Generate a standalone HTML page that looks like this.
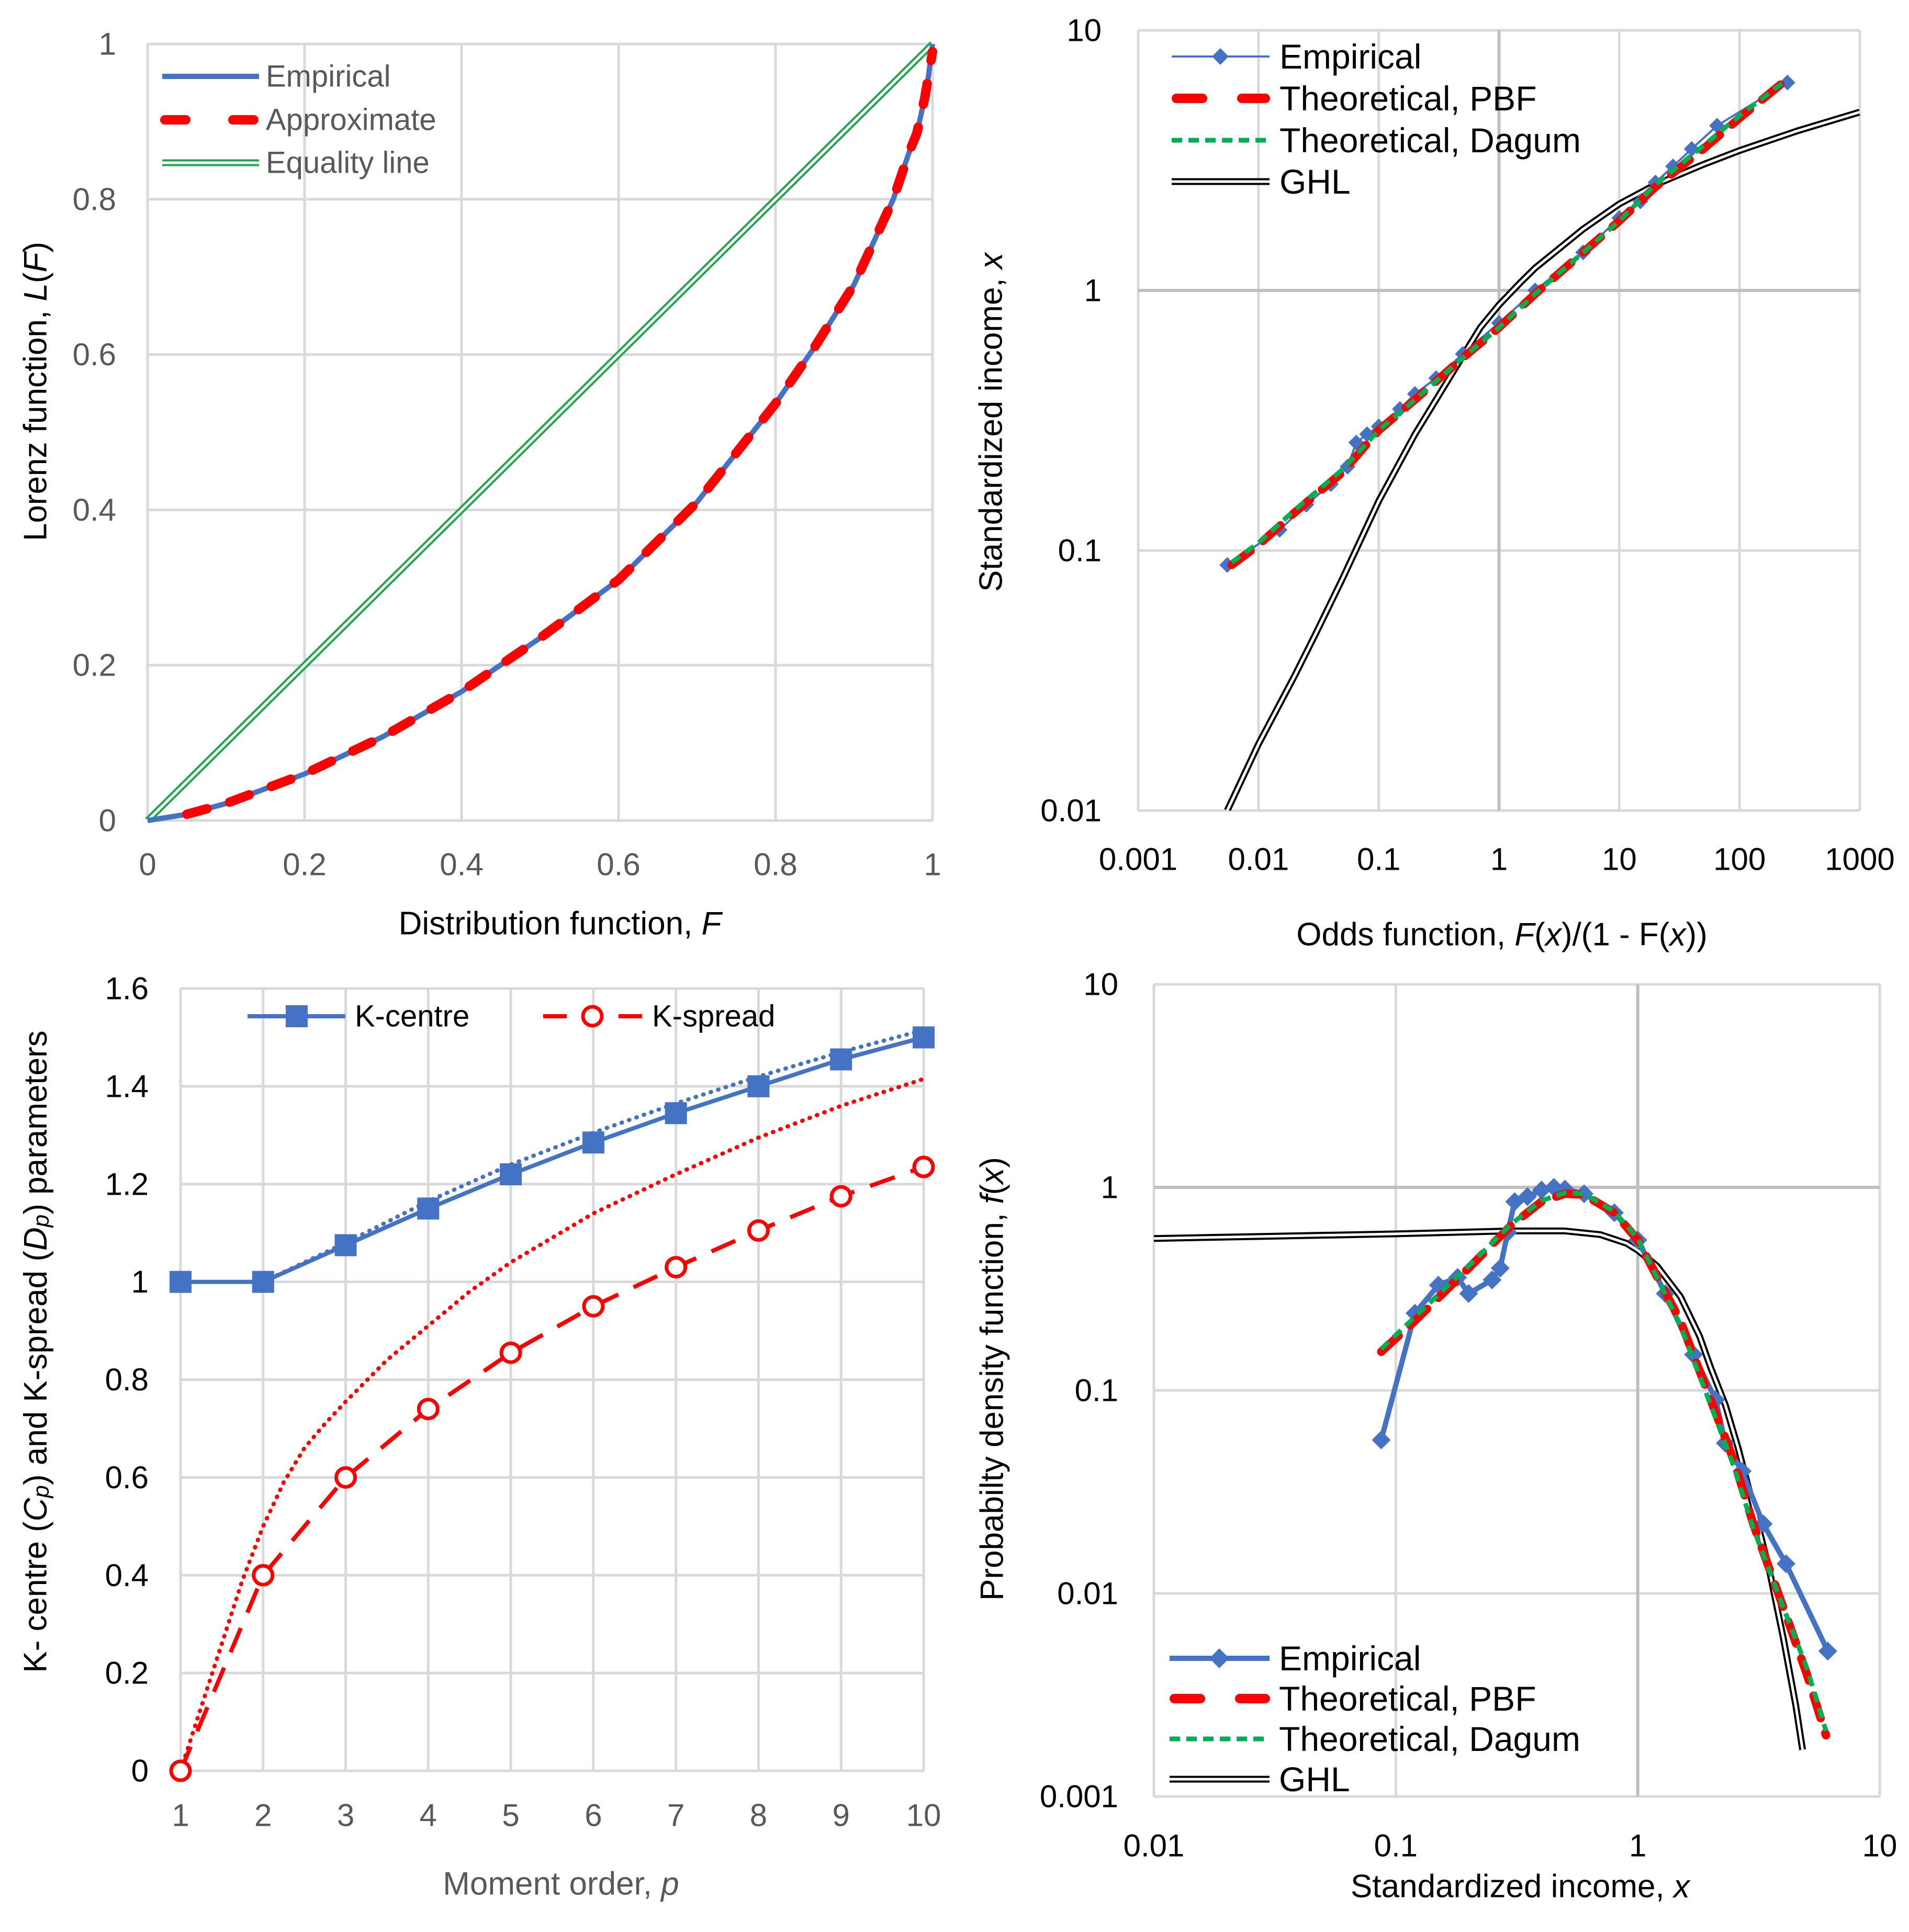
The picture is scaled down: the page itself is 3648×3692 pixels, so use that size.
<!DOCTYPE html>
<html><head><meta charset="utf-8"><style>
html,body{margin:0;padding:0;background:#fff}
svg{display:block;font-family:"Liberation Sans",sans-serif}
</style></head><body>
<svg id="root" width="3648" height="3692" viewBox="0 0 3648 3692" xmlns="http://www.w3.org/2000/svg"></svg>
<script>
// ---------- Panel 1 data: Lorenz ----------
const lorF = [0,0.05,0.1,0.2,0.3,0.4,0.5,0.6,0.7,0.8,0.85,0.9,0.95,0.97,0.98,0.99,0.995,1];
const lorEmp = [0,0.008,0.022,0.06,0.108,0.166,0.235,0.31,0.41,0.537,0.61,0.69,0.80,0.86,0.885,0.93,0.96,1];
const lorApprox = [0,0.008,0.022,0.06,0.108,0.166,0.235,0.31,0.41,0.537,0.61,0.69,0.80,0.86,0.885,0.93,0.96,0.99];
const lorTicks = [0,0.2,0.4,0.6,0.8,1];
// ---------- Panel 2 data: odds ----------
const oddEmpX = [0.0055,0.015,0.025,0.04,0.055,0.065,0.08,0.1,0.15,0.2,0.3,0.5,1,2,5,10,15,20,28,40,65,250];
const oddEmpY = [0.088,0.12,0.15,0.18,0.21,0.26,0.28,0.3,0.35,0.4,0.46,0.57,0.75,1.0,1.4,1.9,2.2,2.6,3.0,3.5,4.3,6.3];
const oddPbfX = [0.006,0.01,0.02,0.05,0.1,0.2,0.5,1,2,5,10,20,50,100,220];
const oddPbfY = [0.088,0.105,0.14,0.2,0.29,0.38,0.55,0.72,0.97,1.4,1.85,2.5,3.5,4.6,6.2];
const oddDagX = [0.006,0.01,0.02,0.05,0.1,0.2,0.5,1,2,5,10,20,50,100,230];
const oddDagY = [0.09,0.107,0.143,0.205,0.29,0.38,0.55,0.72,0.97,1.4,1.85,2.55,3.6,4.7,6.3];
const oddGhlX = [0.0055,0.01,0.02,0.03,0.05,0.1,0.2,0.3,0.5,0.7,1,1.5,2,3,5,10,20,50,100,300,1000];
const oddGhlY = [0.01,0.018,0.033,0.048,0.078,0.155,0.28,0.38,0.56,0.72,0.88,1.07,1.22,1.42,1.72,2.15,2.55,3.05,3.45,4.1,4.85];
const oddXTicks = [0.001,0.01,0.1,1,10,100,1000];
const oddXLabels = ["0.001","0.01","0.1","1","10","100","1000"];
const oddYTicks = [0.01,0.1,1,10];
const oddYLabels = ["0.01","0.1","1","10"];
// ---------- Panel 3 data: moments ----------
const momP = [1,2,3,4,5,6,7,8,9,10];
const kCentre = [1,1,1.075,1.15,1.22,1.285,1.345,1.4,1.455,1.5];
const kSpread = [0,0.4,0.6,0.74,0.855,0.95,1.03,1.105,1.175,1.235];
const kCentreFitP = [2,3,4,5,6,7,8,9,10];
const kCentreFit = [1,1.08,1.165,1.24,1.305,1.365,1.42,1.47,1.515];
const kSpreadFitP = [1,1.25,1.5,1.75,2,2.25,2.5,2.75,3,3.5,4,4.5,5,5.5,6,7,8,9,10];
const kSpreadFit = [0,0.13,0.26,0.39,0.5,0.59,0.66,0.71,0.755,0.84,0.91,0.98,1.04,1.09,1.14,1.22,1.295,1.36,1.415];
const momYTicks = [0,0.2,0.4,0.6,0.8,1,1.2,1.4,1.6];
// ---------- Panel 4 data: pdf ----------
const pdfEmpX = [0.087,0.12,0.15,0.18,0.2,0.25,0.27,0.29,0.31,0.35,0.4,0.45,0.5,0.6,0.8,1,1.3,1.7,2.1,2.3,2.7,3.3,4.1,6.1];
const pdfEmpY = [0.057,0.24,0.33,0.36,0.3,0.35,0.4,0.6,0.85,0.9,0.97,1.0,0.98,0.93,0.75,0.55,0.3,0.15,0.09,0.055,0.04,0.022,0.014,0.0052];
const pdfPbfX = [0.087,0.12,0.2,0.3,0.4,0.5,0.6,0.8,1,1.5,2,2.5,3,4,5,6];
const pdfPbfY = [0.155,0.22,0.4,0.65,0.85,0.93,0.92,0.75,0.55,0.22,0.09,0.045,0.022,0.0085,0.004,0.002];
const pdfDagX = [0.087,0.12,0.2,0.3,0.4,0.5,0.6,0.8,1,1.5,2,2.5,3,4,5,6];
const pdfDagY = [0.16,0.23,0.41,0.66,0.86,0.94,0.93,0.76,0.56,0.21,0.085,0.042,0.021,0.0085,0.0043,0.0021];
const pdfGhlX = [0.01,0.1,0.3,0.5,0.7,0.9,1,1.2,1.5,1.8,2,2.3,2.6,3,3.5,4,4.5,4.8];
const pdfGhlY = [0.56,0.59,0.61,0.61,0.585,0.53,0.49,0.41,0.29,0.185,0.13,0.085,0.052,0.027,0.013,0.006,0.0028,0.0017];
const pdfXTicks = [0.01,0.1,1,10];
const pdfXLabels = ["0.01","0.1","1","10"];
const pdfYTicks = [0.001,0.01,0.1,1,10];
const pdfYLabels = ["0.001","0.01","0.1","1","10"];

const NS = "http://www.w3.org/2000/svg";
const root = document.getElementById("root");
function mk(tag, attrs, parent){const e=document.createElementNS(NS,tag);for(const k in attrs)e.setAttribute(k,attrs[k]);(parent||root).appendChild(e);return e;}
function lin(d0,d1,r0,r1){return v=>r0+(v-d0)/(d1-d0)*(r1-r0);}
function logs(d0,d1,r0,r1){return v=>r0+(Math.log10(v)-Math.log10(d0))/(Math.log10(d1)-Math.log10(d0))*(r1-r0);}
function pts(xs,ys,sx,sy){return xs.map((x,i)=>sx(x).toFixed(1)+","+sy(ys[i]).toFixed(1)).join(" ");}
function line(g,xs,ys,sx,sy,stroke,w,dash,name,cap){
  const p=mk("polyline",{points:pts(xs,ys,sx,sy),fill:"none",stroke:stroke,"stroke-width":w,"stroke-linejoin":"round","stroke-linecap":cap||"butt"},g);
  if(dash)p.setAttribute("stroke-dasharray",dash);
  
  
  return p;
}
function dbl(g,xs,ys,sx,sy,color,name){
  line(g,xs,ys,sx,sy,color,13,null,name);
  line(g,xs,ys,sx,sy,"#fff",5,null,name+"-inner");
}
function text(g,x,y,s,size,fill,anchor,name,rot){
  const t=mk("text",{x:x,y:y,"font-size":size,fill:fill,"text-anchor":anchor||"start","dominant-baseline":"central"},g);
  if(rot)t.setAttribute("transform","rotate(-90 "+x+" "+y+")");
  t.innerHTML=s;
  
  
  return t;
}
function grp(name){const g=mk("g",{});return g;}
function diamond(g,x,y,r,fill,name){
  const p=mk("polygon",{points:`${x},${y-r} ${x+r},${y} ${x},${y+r} ${x-r},${y}`,fill:fill},g);
  
  
}
function frameGrid(g,L,R,T,B,xs,ys,sx,sy,gridColor){
  xs.forEach(v=>{const l=mk("line",{x1:sx(v),x2:sx(v),y1:T,y2:B,stroke:gridColor,"stroke-width":5},g);});
  ys.forEach(v=>{const l=mk("line",{x1:L,x2:R,y1:sy(v),y2:sy(v),stroke:gridColor,"stroke-width":5},g);});
}
const TK=60, TT=62, LG=58, LG2=66;

// ================= Panel 1 =================
(function(){
  const g=grp("lorenz-chart");
  const L=282,R=1782,T=84,B=1568;
  const sx=lin(0,1,L,R), sy=lin(0,1,B,T);
  frameGrid(g,L,R,T,B,lorTicks,lorTicks,sx,sy,"#d9d9d9");
  lorTicks.forEach(v=>{text(g,222,sy(v),String(v),TK,"#595959","end","y-tick-label");text(g,sx(v),1652,String(v),TK,"#595959","middle","x-tick-label");});
  dbl(g,[0,1],[0,1],sx,sy,"#1fa64a","equality-line");
  line(g,lorF,lorEmp,sx,sy,"#4472c4",10,null,"empirical-line");
  line(g,lorF.slice(1),lorApprox.slice(1),sx,sy,"#ff0000",18,"40 45","approximate-line","round");
  text(g,1070,1765,"Distribution function, <tspan font-style='italic'>F</tspan>",TT,"#000","middle","x-axis-title");
  text(g,68,748,"Lorenz function, <tspan font-style='italic'>L</tspan>(<tspan font-style='italic'>F</tspan>)",TT,"#000","middle","y-axis-title",true);
  const lg=grp("legend");g.appendChild(lg);
  let l1=mk("line",{x1:310,x2:495,y1:146,y2:146,stroke:"#4472c4","stroke-width":10},lg);
  let l2=mk("line",{x1:315,x2:490,y1:229,y2:229,stroke:"#ff0000","stroke-width":18,"stroke-dasharray":"40 90","stroke-linecap":"round"},lg);
  let l3=mk("line",{x1:310,x2:495,y1:311,y2:311,stroke:"#1fa64a","stroke-width":13},lg);
  let l4=mk("line",{x1:310,x2:495,y1:311,y2:311,stroke:"#fff","stroke-width":5},lg);
  text(lg,508,146,"Empirical",LG,"#595959","start","legend-empirical");
  text(lg,508,229,"Approximate",LG,"#595959","start","legend-approximate");
  text(lg,508,311,"Equality line",LG,"#595959","start","legend-equality");
})();

// ================= Panel 2 =================
(function(){
  const g=grp("odds-chart");
  const L=2175,R=3554,T=58,B=1549;
  const sx=logs(0.001,1000,L,R), sy=logs(0.01,10,B,T);
  frameGrid(g,L,R,T,B,oddXTicks,oddYTicks,sx,sy,"#d9d9d9");
  const a1=mk("line",{x1:sx(1),x2:sx(1),y1:T,y2:B,stroke:"#bfbfbf","stroke-width":6},g);
  const a2=mk("line",{x1:L,x2:R,y1:sy(1),y2:sy(1),stroke:"#bfbfbf","stroke-width":6},g);
  oddYTicks.forEach((v,i)=>text(g,2105,sy(v),oddYLabels[i],TK,"#000","end","y-tick-label"));
  oddXTicks.forEach((v,i)=>text(g,sx(v),1642,oddXLabels[i],TK,"#000","middle","x-tick-label"));
  const cg=mk("g",{},g);
  const cp=mk("clipPath",{id:"c2"},g);mk("rect",{x:L,y:T,width:R-L,height:B-T},cp);
  cg.setAttribute("clip-path","url(#c2)");
  dbl(cg,oddGhlX,oddGhlY,sx,sy,"#000","ghl-line");
  line(cg,oddEmpX,oddEmpY,sx,sy,"#4472c4",4,null,"empirical-line");
  oddEmpX.forEach((x,i)=>diamond(cg,sx(x),sy(oddEmpY[i]),15,"#4472c4","empirical-point"));
  line(cg,oddPbfX,oddPbfY,sx,sy,"#ff0000",16,"45 30","pbf-line","round");
  line(cg,oddDagX,oddDagY,sx,sy,"#00b050",9,"20 12","dagum-line");
  text(g,2870,1786,"Odds function, <tspan font-style='italic'>F</tspan>(<tspan font-style='italic'>x</tspan>)/(1 - F(<tspan font-style='italic'>x</tspan>))",TT,"#000","middle","x-axis-title");
  text(g,1894,807,"Standardized income, <tspan font-style='italic'>x</tspan>",TT,"#000","middle","y-axis-title",true);
  const lg=grp("legend");g.appendChild(lg);
  const rows=[108,188,268,347];
  let s1=mk("line",{x1:2239,x2:2426,y1:rows[0],y2:rows[0],stroke:"#4472c4","stroke-width":4},lg);
  diamond(lg,2332,rows[0],16,"#4472c4","legend-empirical-marker");
  let s2=mk("line",{x1:2248,x2:2418,y1:rows[1],y2:rows[1],stroke:"#ff0000","stroke-width":18,"stroke-dasharray":"50 75","stroke-linecap":"round"},lg);
  let s3=mk("line",{x1:2239,x2:2426,y1:rows[2],y2:rows[2],stroke:"#00b050","stroke-width":9,"stroke-dasharray":"20 12"},lg);
  let s4=mk("line",{x1:2239,x2:2426,y1:rows[3],y2:rows[3],stroke:"#000","stroke-width":13},lg);
  let s5=mk("line",{x1:2239,x2:2426,y1:rows[3],y2:rows[3],stroke:"#fff","stroke-width":5},lg);
  text(lg,2445,rows[0],"Empirical",LG2,"#000","start","legend-empirical");
  text(lg,2445,rows[1],"Theoretical, PBF",LG2,"#000","start","legend-pbf");
  text(lg,2445,rows[2],"Theoretical, Dagum",LG2,"#000","start","legend-dagum");
  text(lg,2445,rows[3],"GHL",LG2,"#000","start","legend-ghl");
})();

// ================= Panel 3 =================
(function(){
  const g=grp("moments-chart");
  const L=345,R=1765,T=1889,B=3384;
  const sx=lin(1,10,L,R), sy=lin(0,1.6,B,T);
  frameGrid(g,L,R,T,B,momP,momYTicks,sx,sy,"#d9d9d9");
  momYTicks.forEach(v=>text(g,284,sy(v),String(Math.round(v*10)/10),TK,"#000","end","y-tick-label"));
  momP.forEach(v=>text(g,sx(v),3469,String(v),TK,"#595959","middle","x-tick-label"));
  line(g,kCentreFitP,kCentreFit,sx,sy,"#4472c4",8,"1 14","k-centre-trend","round");
  line(g,kSpreadFitP,kSpreadFit,sx,sy,"#ff0000",8,"1 14","k-spread-trend","round");
  line(g,momP,kCentre,sx,sy,"#4472c4",8,null,"k-centre-line");
  momP.forEach((p,i)=>{const r=mk("rect",{x:sx(p)-21,y:sy(kCentre[i])-21,width:42,height:42,fill:"#4472c4"},g);});
  line(g,momP,kSpread,sx,sy,"#ff0000",8,"50 32","k-spread-line");
  momP.forEach((p,i)=>{const c=mk("circle",{cx:sx(p),cy:sy(kSpread[i]),r:18,fill:"#fff",stroke:"#ff0000","stroke-width":7},g);});
  text(g,1072,3600,"Moment order, <tspan font-style='italic'>p</tspan>",TT,"#595959","middle","x-axis-title");
  text(g,68,2583,"K- centre (<tspan font-style='italic'>C<tspan font-size='44' dy='10'>p</tspan></tspan><tspan dy='-10'>) and  K-spread (</tspan><tspan font-style='italic'>D<tspan font-size='44' dy='10'>p</tspan></tspan><tspan dy='-10'>)  parameters</tspan>",TT,"#000","middle","y-axis-title",true);
  const lg=grp("legend");g.appendChild(lg);
  const y=1942;
  let a=mk("line",{x1:473,x2:660,y1:y,y2:y,stroke:"#4472c4","stroke-width":8},lg);
  let b=mk("rect",{x:546,y:y-21,width:42,height:42,fill:"#4472c4"},lg);
  let c=mk("line",{x1:1038,x2:1227,y1:y,y2:y,stroke:"#ff0000","stroke-width":8,"stroke-dasharray":"45 99"},lg);
  let d=mk("circle",{cx:1132,cy:y,r:18,fill:"#fff",stroke:"#ff0000","stroke-width":7},lg);
  text(lg,678,y,"K-centre",LG,"#000","start","legend-k-centre");
  text(lg,1246,y,"K-spread",LG,"#000","start","legend-k-spread");
})();

// ================= Panel 4 =================
(function(){
  const g=grp("pdf-chart");
  const L=2205,R=3592,T=1881,B=3433;
  const sx=logs(0.01,10,L,R), sy=logs(0.001,10,B,T);
  frameGrid(g,L,R,T,B,pdfXTicks,pdfYTicks,sx,sy,"#d9d9d9");
  const a1=mk("line",{x1:sx(1),x2:sx(1),y1:T,y2:B,stroke:"#bfbfbf","stroke-width":6},g);
  const a2=mk("line",{x1:L,x2:R,y1:sy(1),y2:sy(1),stroke:"#bfbfbf","stroke-width":6},g);
  pdfYTicks.forEach((v,i)=>text(g,2137,sy(v),pdfYLabels[i],TK,"#000","end","y-tick-label"));
  pdfXTicks.forEach((v,i)=>text(g,sx(v),3527,pdfXLabels[i],TK,"#000","middle","x-tick-label"));
  dbl(g,pdfGhlX,pdfGhlY,sx,sy,"#000","ghl-line");
  line(g,pdfEmpX,pdfEmpY,sx,sy,"#4472c4",10,null,"empirical-line");
  pdfEmpX.forEach((x,i)=>diamond(g,sx(x),sy(pdfEmpY[i]),18,"#4472c4","empirical-point"));
  line(g,pdfPbfX,pdfPbfY,sx,sy,"#ff0000",16,"45 30","pbf-line","round");
  line(g,pdfDagX,pdfDagY,sx,sy,"#00b050",9,"20 12","dagum-line");
  text(g,2905,3605,"Standardized income, <tspan font-style='italic'>x</tspan>",TT,"#000","middle","x-axis-title");
  text(g,1896,2635,"Probabilty density function, <tspan font-style='italic'>f</tspan>(<tspan font-style='italic'>x</tspan>)",TT,"#000","middle","y-axis-title",true);
  const lg=grp("legend");g.appendChild(lg);
  const rows=[3169,3246,3323,3400];
  let s1=mk("line",{x1:2235,x2:2426,y1:rows[0],y2:rows[0],stroke:"#4472c4","stroke-width":10},lg);
  diamond(lg,2330,rows[0],19,"#4472c4","legend-empirical-marker");
  let s2=mk("line",{x1:2244,x2:2418,y1:rows[1],y2:rows[1],stroke:"#ff0000","stroke-width":18,"stroke-dasharray":"50 75","stroke-linecap":"round"},lg);
  let s3=mk("line",{x1:2235,x2:2426,y1:rows[2],y2:rows[2],stroke:"#00b050","stroke-width":9,"stroke-dasharray":"20 12"},lg);
  let s4=mk("line",{x1:2235,x2:2426,y1:rows[3],y2:rows[3],stroke:"#000","stroke-width":13},lg);
  let s5=mk("line",{x1:2235,x2:2426,y1:rows[3],y2:rows[3],stroke:"#fff","stroke-width":5},lg);
  text(lg,2444,rows[0],"Empirical",LG2,"#000","start","legend-empirical");
  text(lg,2444,rows[1],"Theoretical, PBF",LG2,"#000","start","legend-pbf");
  text(lg,2444,rows[2],"Theoretical, Dagum",LG2,"#000","start","legend-dagum");
  text(lg,2444,rows[3],"GHL",LG2,"#000","start","legend-ghl");
})();
</script>
</body></html>
